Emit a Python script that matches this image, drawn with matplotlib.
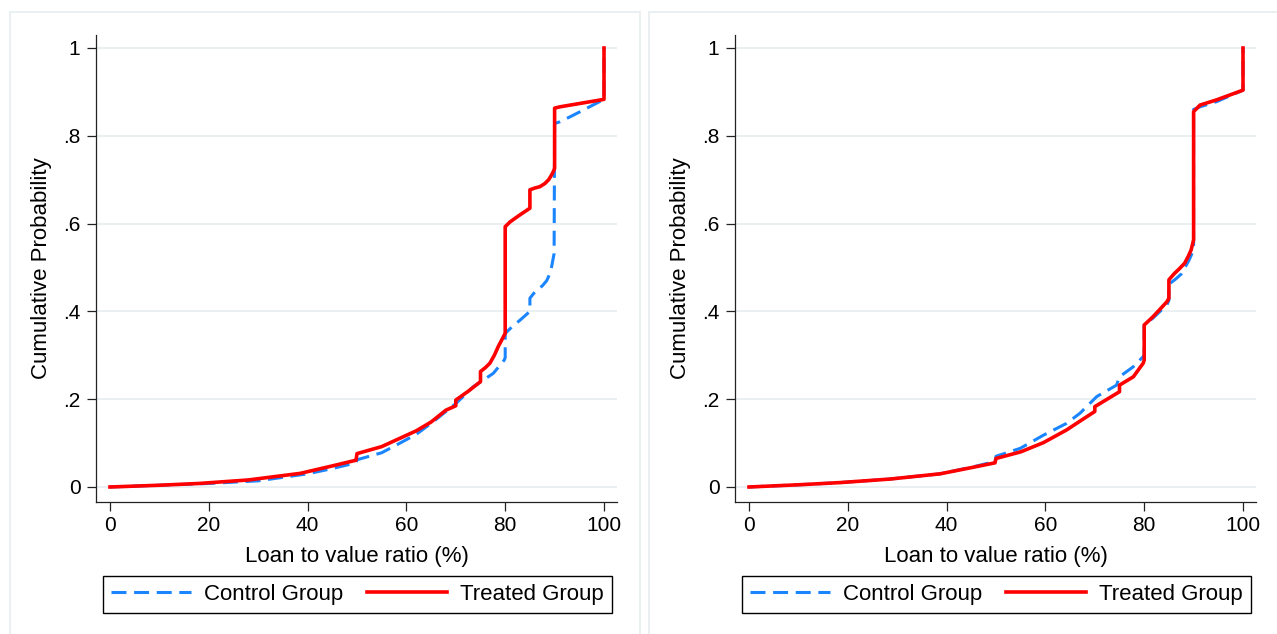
import matplotlib

matplotlib.use("Agg")

import matplotlib.pyplot as plt
from matplotlib.patches import Rectangle

plt.rcParams["font.family"] = ["Liberation Sans", "DejaVu Sans"]

# Left panel: control group (blue, dashed)
ltv_ctrl_l = [0, 10, 20, 30, 40, 45, 49.8, 50, 55, 58.7, 62, 65, 68, 70, 73.5,
              75.5, 77.6, 79.8, 80, 80, 81.5, 83, 85, 85, 85.7, 86.4, 87.5, 88.4,
              89, 89.4, 89.7, 89.9, 90, 91.1, 93.8, 100, 100]
cdf_ctrl_l = [0, 0.004, 0.008, 0.014, 0.03, 0.042, 0.055, 0.062, 0.078, 0.10,
              0.12, 0.145, 0.172, 0.19, 0.228, 0.243, 0.259, 0.289, 0.295, 0.35,
              0.366, 0.38, 0.40, 0.43, 0.44, 0.449, 0.458, 0.47, 0.485, 0.502,
              0.52, 0.532, 0.828, 0.832, 0.847, 0.883, 1.0]

# Left panel: treated group (red, solid)
ltv_trt_l = [0, 10, 18, 28, 38.5, 45, 49.8, 50, 55, 58.7, 62, 65, 68, 70, 70,
             72.5, 75, 75, 76, 76.9, 77.8, 78.6, 79.3, 80, 80, 81, 83, 85, 85,
             86, 87, 88, 88.8, 89.4, 89.8, 90, 90, 91.1, 100, 100]
cdf_trt_l = [0, 0.004, 0.008, 0.016, 0.031, 0.048, 0.061, 0.076, 0.092, 0.111,
             0.128, 0.148, 0.175, 0.185, 0.198, 0.218, 0.24, 0.263, 0.272, 0.282,
             0.30, 0.32, 0.335, 0.35, 0.593, 0.604, 0.62, 0.635, 0.677, 0.681,
             0.684, 0.691, 0.70, 0.711, 0.72, 0.726, 0.863, 0.866, 0.883, 1.0]

# Right panel: control group
ltv_ctrl_r = [0, 10, 18.4, 28.5, 38.7, 45.4, 49.8, 50, 54.9, 59.6, 64.3, 67,
              70.4, 74.4, 75, 77.8, 79.8, 80, 80, 81.8, 84.6, 85, 85, 86.3, 87.5,
              89, 89.6, 90, 90, 91.3, 94.7, 100, 100]
cdf_ctrl_r = [0, 0.005, 0.01, 0.018, 0.03, 0.046, 0.058, 0.07, 0.088, 0.118,
              0.145, 0.168, 0.206, 0.232, 0.251, 0.274, 0.297, 0.30, 0.369, 0.385,
              0.415, 0.425, 0.462, 0.473, 0.485, 0.515, 0.53, 0.55, 0.86, 0.866,
              0.878, 0.904, 1.0]

# Right panel: treated group
ltv_trt_r = [0, 10, 18.4, 28.5, 38.7, 45.4, 49.8, 50, 55, 59.6, 64.3, 67, 70,
             70, 72.5, 75, 75, 77.8, 79.8, 80, 80, 81.8, 84.6, 85, 85, 86, 87.2,
             88.2, 88.9, 89.5, 90, 90, 91.3, 94.7, 100, 100]
cdf_trt_r = [0, 0.005, 0.01, 0.018, 0.03, 0.045, 0.055, 0.065, 0.08, 0.101,
             0.13, 0.15, 0.172, 0.183, 0.2, 0.217, 0.232, 0.251, 0.282, 0.289,
             0.369, 0.388, 0.422, 0.43, 0.472, 0.485, 0.498, 0.51, 0.525, 0.54,
             0.563, 0.855, 0.870, 0.882, 0.904, 1.0]

x_ticks = [0, 20, 40, 60, 80, 100]
y_ticks = [0, 0.2, 0.4, 0.6, 0.8, 1.0]
y_tick_labels = ["0", ".2", ".4", ".6", ".8", "1"]

blue = "#1A85FF"
red = "#FF0000"
grid_c = "#E8EEF0"
W, H = 1277, 634


def panel(fig, x0, ltv_c, cdf_c, ltv_t, cdf_t):
    # x0 = pixel offset of the panel
    ax = fig.add_axes([(96 + x0) / W, (H - 502) / H, 521 / W, 467 / H])
    ax.plot(ltv_c, cdf_c, color=blue, lw=2.2, dashes=(4.9, 2.5),
            label="Control Group")
    ax.plot(ltv_t, cdf_t, color=red, lw=2.6, label="Treated Group")

    ax.set_xlim(-2.83, 102.63)
    ax.set_ylim(-0.0342, 1.0296)
    ax.set_xticks(x_ticks)
    ax.set_yticks(y_ticks)
    ax.set_yticklabels(y_tick_labels)
    ax.tick_params(axis="both", labelsize=15, length=6.2, width=0.9,
                   color="#222222")
    ax.tick_params(axis="y", pad=5)
    ax.tick_params(axis="x", pad=4)
    ax.grid(axis="y", color=grid_c, lw=1.3)
    ax.set_axisbelow(True)
    for s in ("top", "right"):
        ax.spines[s].set_visible(False)
    for s in ("left", "bottom"):
        ax.spines[s].set_color("#222222")
        ax.spines[s].set_linewidth(0.9)

    ax.set_xlabel("Loan to value ratio (%)", fontsize=16, labelpad=8)
    ax.set_ylabel("Cumulative Probability", fontsize=16, labelpad=8)

    leg = fig.legend(
        handles=ax.get_lines(),
        loc="lower left",
        bbox_to_anchor=((103 + x0) / W, (H - 613) / H, 509 / W, 42 / H),
        bbox_transform=fig.transFigure,
        mode="expand",
        ncol=2,
        fontsize=16,
        handlelength=3.6,
        handletextpad=0.6,
        borderaxespad=0,
        borderpad=0.35,
        fancybox=False,
        framealpha=1,
        edgecolor="black",
    )
    leg.get_frame().set_linewidth(1.0)

    fig.patches.append(Rectangle(((10 + x0) / W, -0.01), 630 / W, (H - 12) / H + 0.01,
                                 transform=fig.transFigure, fill=False,
                                 edgecolor=grid_c, lw=1.3))
    return ax


fig = plt.figure(figsize=(W / 100, H / 100), dpi=100)
panel(fig, 0, ltv_ctrl_l, cdf_ctrl_l, ltv_trt_l, cdf_trt_l)
panel(fig, 639, ltv_ctrl_r, cdf_ctrl_r, ltv_trt_r, cdf_trt_r)

fig.savefig("out.png", dpi=100)
plt.close(fig)
